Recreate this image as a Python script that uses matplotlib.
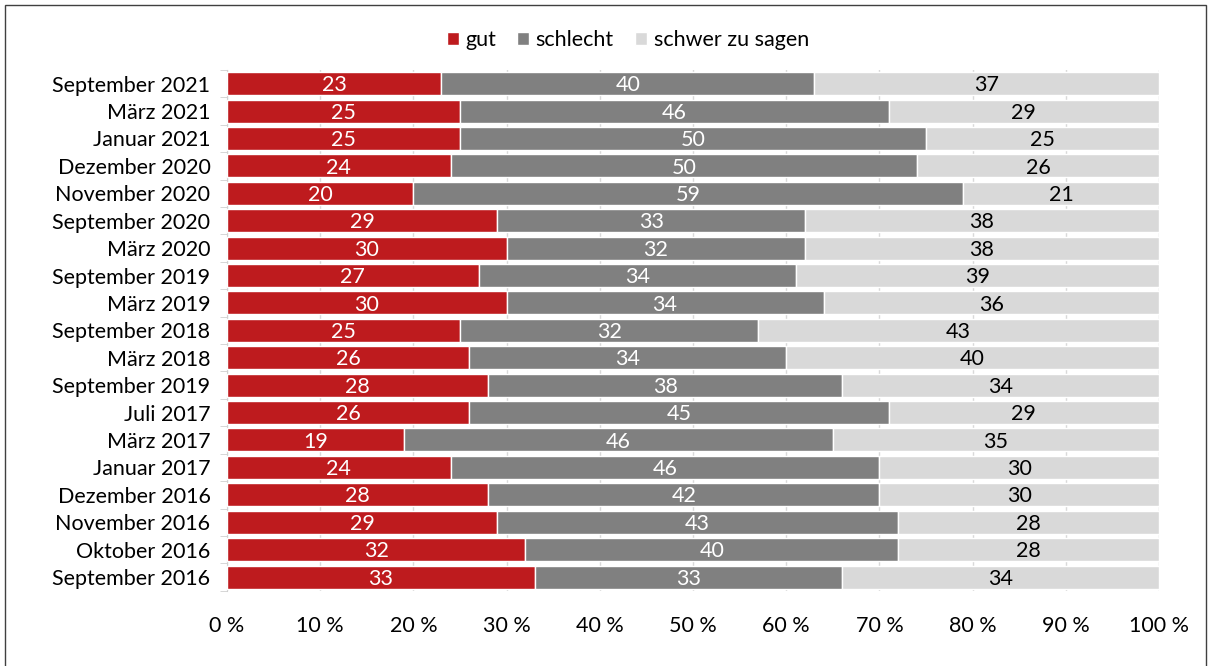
import matplotlib
matplotlib.use("Agg")
import matplotlib.pyplot as plt
import numpy as np
from matplotlib.patches import Rectangle

plt.rcParams['font.family'] = ['Lato', 'DejaVu Sans']

# data, top row first (as in the picture)
categories = ["September 2021", "März 2021", "Januar 2021", "Dezember 2020",
              "November 2020", "September 2020", "März 2020", "September 2019",
              "März 2019", "September 2018", "März 2018", "September 2019",
              "Juli 2017", "März 2017", "Januar 2017", "Dezember 2016",
              "November 2016", "Oktober 2016", "September 2016"]
gut = [23, 25, 25, 24, 20, 29, 30, 27, 30, 25, 26, 28, 26, 19, 24, 28, 29, 32, 33]
schlecht = [40, 46, 50, 50, 59, 33, 32, 34, 34, 32, 34, 38, 45, 46, 46, 42, 43, 40, 33]
schwer = [37, 29, 25, 26, 21, 38, 38, 39, 36, 43, 40, 34, 29, 35, 30, 30, 28, 28, 34]
series_names = ["gut", "schlecht", "schwer zu sagen"]

colors = ["#BE1B1E", "#808080", "#D9D9D9"]
text_colors = ["white", "white", "black"]
fs = 15.5

fig = plt.figure(figsize=(12.11, 6.66), dpi=100)
ax = fig.add_axes([0.1875, 0.113, 0.7696, 0.782])

y = np.arange(len(categories))
left = np.zeros(len(categories))
for vals, name, c, tc in zip([gut, schlecht, schwer], series_names, colors, text_colors):
    vals = np.array(vals, dtype=float)
    ax.barh(y, vals, left=left, height=0.84, color=c, edgecolor="white",
            linewidth=1, label=name, zorder=3)
    for yi, l, v in zip(y, left, vals):
        ax.text(l + v / 2, yi + 0.06, f"{int(v)}", ha="center", va="center",
                color=tc, fontsize=fs, zorder=4)
    left += vals

ax.set_xlim(0, 100)
ax.set_ylim(len(categories) - 0.5, -0.5)
ax.set_yticks(y)
ax.set_yticklabels(categories, fontsize=fs)
ax.set_xticks(np.arange(0, 101, 10))
ax.set_xticklabels([f"{v} %" for v in range(0, 101, 10)], fontsize=fs)
ax.tick_params(axis="x", length=0, pad=18)
ax.tick_params(axis="y", length=0, pad=12)
# category separator ticks on left
ax.set_yticks(np.arange(-0.5, len(categories), 1), minor=True)
ax.tick_params(axis="y", which="minor", length=5, color="#D0D0D0")
ax.grid(axis="x", color="#D9D9D9", linewidth=1, zorder=0)
for s in ["top", "right", "bottom"]:
    ax.spines[s].set_visible(False)
ax.spines["left"].set_color("#D0D0D0")

ax.legend(loc="center", bbox_to_anchor=(0.43, 1.057), ncol=3,
          frameon=False, fontsize=fs, handlelength=0.55, handleheight=0.55,
          handletextpad=0.3, columnspacing=1.0)

fig.patches.append(Rectangle((0.004, -0.01), 0.992, 1.0025, transform=fig.transFigure,
                             fill=False, edgecolor="#404040", linewidth=1))

fig.savefig("out.png", dpi=100)
